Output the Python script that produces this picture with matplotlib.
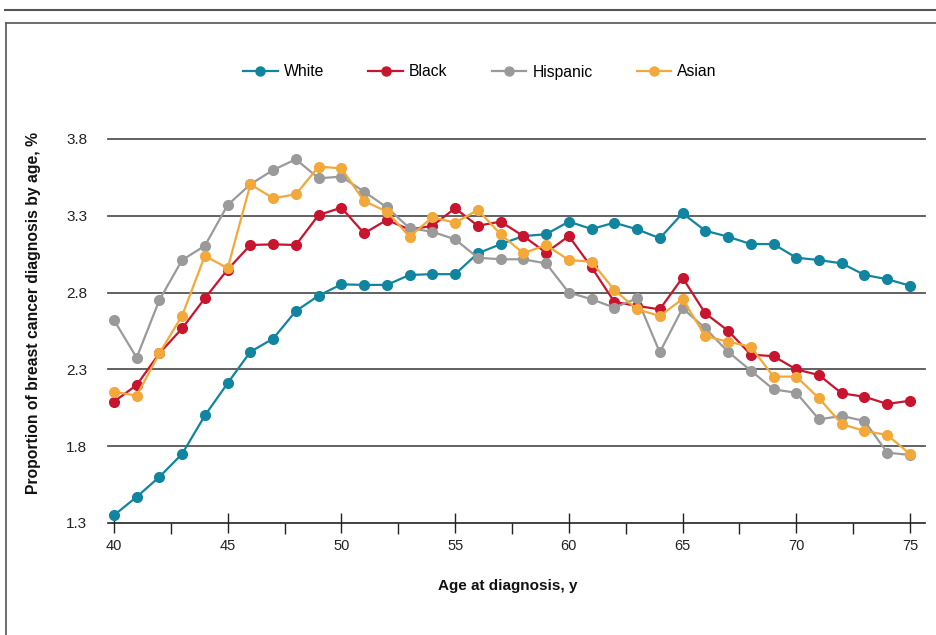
import numpy as np
import matplotlib.pyplot as plt
from matplotlib.lines import Line2D
from matplotlib.ticker import MultipleLocator

plt.rcParams['font.family'] = ['Liberation Sans', 'DejaVu Sans']

ages = np.arange(40, 76)

white = [1.35, 1.47, 1.60, 1.75, 2.00, 2.21, 2.415, 2.50, 2.68, 2.78, 2.854, 2.85,
         2.85, 2.915, 2.92, 2.92, 3.056, 3.115, 3.168, 3.18, 3.262, 3.214, 3.255, 3.212,
         3.154, 3.316, 3.203, 3.164, 3.116, 3.116, 3.027, 3.012, 2.99, 2.915, 2.887, 2.845]
black = [2.09, 2.198, 2.405, 2.567, 2.763, 2.95, 3.11, 3.114, 3.11, 3.305, 3.353, 3.186,
         3.273, 3.21, 3.235, 3.349, 3.235, 3.262, 3.168, 3.06, 3.168, 2.965, 2.74, 2.713,
         2.691, 2.897, 2.665, 2.552, 2.396, 2.386, 2.30, 2.263, 2.144, 2.122, 2.075, 2.096]
hispanic = [2.622, 2.376, 2.752, 3.012, 3.105, 3.37, 3.505, 3.598, 3.668, 3.544, 3.555, 3.457,
            3.355, 3.219, 3.196, 3.147, 3.027, 3.017, 3.017, 2.99, 2.80, 2.757, 2.702, 2.763,
            2.411, 2.698, 2.568, 2.415, 2.292, 2.17, 2.148, 1.975, 1.997, 1.964, 1.758, 1.743]
asian = [2.155, 2.129, 2.405, 2.65, 3.04, 2.958, 3.505, 3.414, 3.44, 3.62, 3.609, 3.396,
         3.327, 3.164, 3.29, 3.255, 3.338, 3.18, 3.056, 3.11, 3.012, 3.001, 2.817, 2.691,
         2.648, 2.758, 2.517, 2.48, 2.448, 2.253, 2.253, 2.112, 1.944, 1.899, 1.873, 1.749]

names = ['White', 'Black', 'Hispanic', 'Asian']
colors = ['#11849f', '#c8142e', '#9a9a9a', '#f3a83a']
series = [white, black, hispanic, asian]

fig = plt.figure(figsize=(9.36, 6.35), dpi=100)
W, H = 936, 635
ax = fig.add_axes([108 / W, 1 - 523 / H, (925 - 108) / W, (523 - 139) / H])

for y in [1.8, 2.3, 2.8, 3.3, 3.8]:
    ax.axhline(y, color='#555555', lw=1.3, zorder=1, clip_on=False)

handles = []
for name, vals, c in zip(names, series, colors):
    ax.plot(ages, vals, color=c, lw=1.6, marker='o', ms=7, zorder=3, clip_on=False)
    handles.append(Line2D([], [], color=c, lw=1.6, marker='o', ms=6.5, label=name))

ax.set_xlim(39.74, 75.66)
ax.set_ylim(1.3, 3.8)
ax.set_yticks([1.3, 1.8, 2.3, 2.8, 3.3, 3.8])
ax.set_yticklabels(['1.3', '1.8', '2.3', '2.8', '3.3', '3.8'])
ax.set_xticks(np.arange(40, 76, 5))
ax.xaxis.set_minor_locator(MultipleLocator(2.5))

for s in ['top', 'right', 'left']:
    ax.spines[s].set_visible(False)
ax.spines['bottom'].set_color('#222222')
ax.spines['bottom'].set_linewidth(1.2)

ax.tick_params(axis='y', length=0, pad=15, labelsize=11, colors='#222222')
ax.tick_params(axis='x', which='major', direction='inout', length=15, width=1,
               pad=4, labelsize=10.5, colors='#222222')
ax.tick_params(axis='x', which='minor', direction='out', length=8, width=1, colors='#222222')

fig.text(508 / W, 1 - 586 / H, 'Age at diagnosis, y', ha='center', va='center',
         fontsize=11, fontweight='bold', color='#111111')
fig.text(34 / W, 1 - 313 / H, 'Proportion of breast cancer diagnosis by age, %',
         ha='center', va='center', rotation=90, fontsize=11.3, fontweight='bold',
         color='#111111')

fig.legend(handles=handles, loc='center', bbox_to_anchor=(480 / W, 1 - 72 / H),
           ncol=4, frameon=False, fontsize=11.3, columnspacing=2.8, handlelength=2.2,
           handletextpad=0.4)

# frame lines of the original figure panel
fig.add_artist(Line2D([5 / W, 1], [1 - 10 / H, 1 - 10 / H], color='#555555', lw=1.5))
fig.add_artist(Line2D([6 / W, 1], [1 - 23 / H, 1 - 23 / H], color='#555555', lw=1.2))
fig.add_artist(Line2D([6 / W, 6 / W], [1 - 23 / H, 0], color='#555555', lw=1.2))

fig.savefig('out.png', dpi=100)
